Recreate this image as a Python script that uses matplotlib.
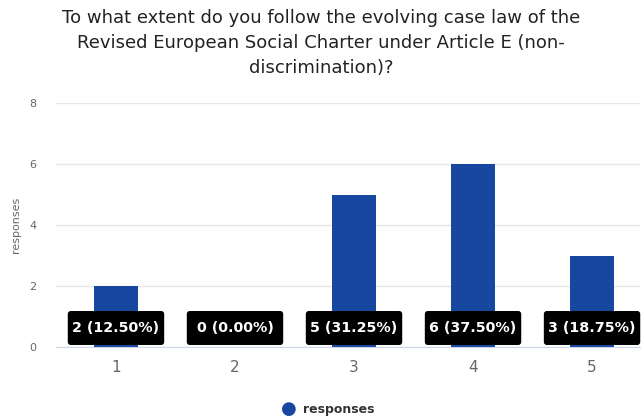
import numpy as np
import matplotlib
matplotlib.use('Agg')
from matplotlib import pyplot as plt
from matplotlib.patches import FancyBboxPatch

categories = ['1', '2', '3', '4', '5']
responses = [2, 0, 5, 6, 3]
percents = [12.50, 0.00, 31.25, 37.50, 18.75]

title = 'To what extent do you follow the evolving case law of the\nRevised European Social Charter under Article E (non-\ndiscrimination)?'

plt.rcParams['font.family'] = ['DejaVu Sans']

fig = plt.figure(figsize=(6.42, 4.2), dpi=100)
ax = fig.add_axes([56/642, 73/420, 584/642, 244/420])

x = np.arange(1, len(categories)+1)
ax.bar(x, responses, width=0.37, color='#17479e', zorder=2)

# data labels (black boxes near the base)
bw, y0, y1 = 0.81, 0.066, 1.18
px_x = 119.  # pixels per x unit
px_y = 30.5  # pixels per y unit
for xi, n, p in zip(x, responses, percents):
    box = FancyBboxPatch((xi-bw/2, y0), bw, y1-y0,
                         boxstyle='round,pad=0,rounding_size={:f}'.format(3/px_x),
                         mutation_aspect=px_x/px_y, fc='black', ec='none', zorder=3,
                         clip_on=False)
    ax.add_patch(box)
    ax.text(xi, (y0+y1)/2, '{:d} ({:.2f}%)'.format(n, p), ha='center', va='center',
            color='white', fontsize=10.3, fontweight='bold', zorder=4)

ax.set_xlim(0.496, 5.403)
ax.set_ylim(0, 8)
ax.set_yticks([0, 2, 4, 6, 8])
ax.set_xticks(x)
ax.set_xticklabels(categories)
ax.grid(axis='y', color='#e6e6e6', linewidth=1, zorder=0)
for s in ['top', 'right', 'left']:
    ax.spines[s].set_visible(False)
ax.spines['bottom'].set_color('#ccd6eb')
ax.spines['bottom'].set_zorder(5)
ax.tick_params(axis='y', length=0, labelsize=8, colors='#666666', pad=14)
ax.tick_params(axis='x', length=0, labelsize=11, colors='#666666', pad=9)
ax.set_ylabel('responses', fontsize=8, color='#666666', labelpad=6)

fig.text(0.5, 0.978, title, ha='center', va='top', fontsize=13, color='#222222', linespacing=1.5)

# legend
fig.text(289/642, 1-409/420, u'\u25CF', ha='center', va='center', fontsize=13, color='#17479e')
fig.text(303/642, 1-410/420, 'responses', ha='left', va='center', fontsize=9, fontweight='bold', color='#333333')

fig.savefig('out.png', dpi=100)
plt.close(fig)
